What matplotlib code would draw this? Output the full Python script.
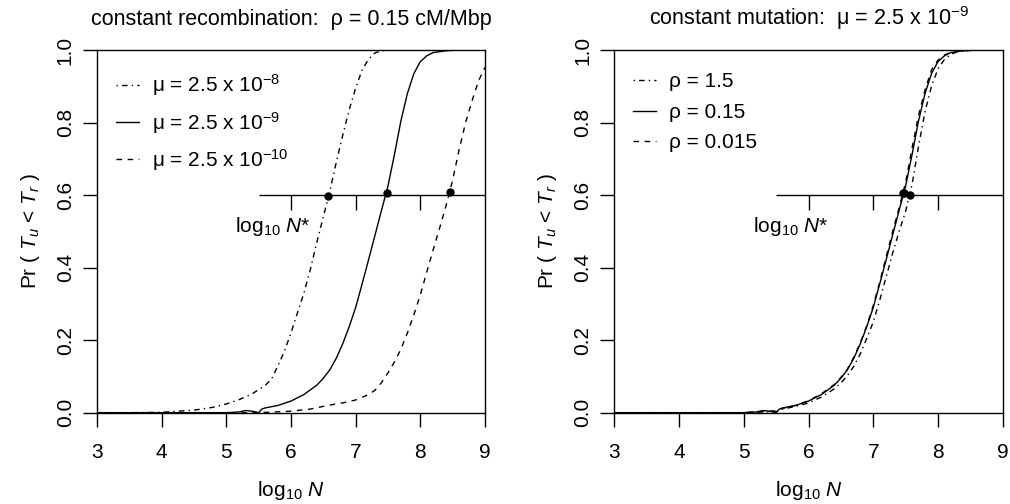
import matplotlib
matplotlib.use("Agg")
import matplotlib.pyplot as plt

plt.rcParams['font.family'] = ['Liberation Sans', 'DejaVu Sans']
plt.rcParams['mathtext.fontset'] = 'custom'
plt.rcParams['mathtext.rm'] = 'Liberation Sans'
plt.rcParams['mathtext.it'] = 'Liberation Sans:italic'
plt.rcParams['mathtext.bf'] = 'Liberation Sans:bold'

# ---------------- data ----------------
# Left panel: constant recombination, varying mutation rate
x_mu8 = [3.0, 3.5, 4.0, 4.5, 4.8, 5.0, 5.2, 5.4, 5.6, 5.7, 5.8, 5.9, 6.0, 6.1, 6.2,
         6.3, 6.4, 6.5, 6.6, 6.7, 6.8, 6.9, 7.0, 7.1, 7.2, 7.3, 7.4, 7.6, 9.0]
y_mu8 = [0.0, 0.0, 0.001, 0.007, 0.015, 0.024, 0.036, 0.052, 0.075, 0.093, 0.13, 0.17,
         0.22, 0.275, 0.33, 0.395, 0.47, 0.54, 0.61, 0.69, 0.765, 0.835, 0.895, 0.945,
         0.975, 0.992, 0.998, 1.0, 1.0]

x_mu9 = [3.0, 4.0, 5.0, 5.2, 5.3, 5.4, 5.5, 5.55, 5.6, 5.8, 6.0, 6.2, 6.4, 6.5, 6.6,
         6.7, 6.8, 6.9, 7.0, 7.1, 7.2, 7.3, 7.4, 7.5, 7.6, 7.7, 7.8, 7.9, 8.0, 8.1,
         8.2, 8.4, 8.6, 9.0]
y_mu9 = [0.0, 0.0, 0.0, 0.002, 0.006, 0.004, 0.0, 0.01, 0.013, 0.02, 0.032, 0.05,
         0.076, 0.095, 0.118, 0.15, 0.19, 0.237, 0.29, 0.355, 0.422, 0.49, 0.558,
         0.625, 0.712, 0.805, 0.88, 0.935, 0.968, 0.984, 0.993, 0.998, 1.0, 1.0]

x_mu10 = [3.0, 5.5, 6.0, 6.3, 6.6, 6.8, 7.0, 7.2, 7.3, 7.4, 7.5, 7.6, 7.7, 7.8, 7.9,
          8.0, 8.1, 8.2, 8.3, 8.4, 8.5, 8.6, 8.7, 8.8, 8.9, 9.0]
y_mu10 = [0.0, 0.0, 0.004, 0.01, 0.021, 0.027, 0.035, 0.05, 0.062, 0.083, 0.11, 0.14,
          0.175, 0.22, 0.27, 0.325, 0.388, 0.45, 0.51, 0.572, 0.642, 0.725, 0.80, 0.86,
          0.915, 0.952]

nstar_left_x = [6.58, 7.49, 8.46]
nstar_left_y = [0.598, 0.607, 0.609]

# Right panel: constant mutation, varying recombination rate
x_rho15 = [3.0, 5.0, 5.5, 5.6, 5.8, 6.0, 6.2, 6.4, 6.5, 6.6, 6.7, 6.8, 6.9, 7.0, 7.1,
           7.2, 7.3, 7.4, 7.5, 7.6, 7.7, 7.8, 7.9, 8.0, 8.1, 8.2, 8.3, 8.5, 8.7, 9.0]
y_rho15 = [0.0, 0.0, 0.003, 0.01, 0.017, 0.027, 0.043, 0.066, 0.082, 0.102, 0.128,
           0.162, 0.205, 0.25, 0.31, 0.375, 0.44, 0.5, 0.555, 0.63, 0.735, 0.83, 0.9,
           0.948, 0.974, 0.988, 0.995, 0.999, 1.0, 1.0]

x_rho015 = x_mu9
y_rho015 = y_mu9

x_rho0015 = [3.0, 5.0, 5.3, 5.5, 5.6, 5.8, 6.0, 6.2, 6.4, 6.5, 6.6, 6.7, 6.8, 6.9, 7.0,
             7.1, 7.2, 7.3, 7.4, 7.5, 7.6, 7.7, 7.8, 7.9, 8.0, 8.1, 8.2, 8.4, 8.6, 9.0]
y_rho0015 = [0.0, 0.0, 0.004, 0.005, 0.012, 0.02, 0.033, 0.052, 0.078, 0.097, 0.12,
             0.153, 0.193, 0.24, 0.295, 0.36, 0.43, 0.5, 0.565, 0.635, 0.73, 0.82,
             0.89, 0.945, 0.972, 0.986, 0.994, 0.998, 1.0, 1.0]

nstar_right_x = [7.46, 7.48, 7.56]
nstar_right_y = [0.607, 0.607, 0.600]

left_labels = ["μ = 2.5 x 10$^{-8}$", "μ = 2.5 x 10$^{-9}$", "μ = 2.5 x 10$^{-10}$"]
right_labels = ["ρ = 1.5", "ρ = 0.15", "ρ = 0.015"]
left_title = "constant recombination:  ρ = 0.15 cM/Mbp"
right_title = "constant mutation:  μ = 2.5 x 10$^{-9}$"

xticks = [3, 4, 5, 6, 7, 8, 9]
yticks = [0.0, 0.2, 0.4, 0.6, 0.8, 1.0]
ytick_labels = ["0.0", "0.2", "0.4", "0.6", "0.8", "1.0"]
inner_ticks = [6, 7, 8]

# ---------------- styles ----------------
LW = 1.0
DASHDOT = (0, (1, 3, 4, 3))
DASHED = (0, (4, 4))
SOLID = '-'
FS = 15

fig = plt.figure(figsize=(10.10, 5.04), dpi=100)
ax1 = fig.add_axes([0.0960, 0.1812, 0.3842, 0.7196])
ax2 = fig.add_axes([0.6082, 0.1812, 0.3846, 0.7196])


def style_axes(ax, title):
    ax.set_xlim(3, 9)
    ax.set_ylim(0, 1)
    ax.set_xticks(xticks)
    ax.set_xticklabels([str(t) for t in xticks], fontsize=FS)
    ax.set_yticks(yticks)
    ax.set_yticklabels(ytick_labels, fontsize=FS, rotation=90, va='center')
    ax.tick_params(direction='out', length=10, width=1.0, colors='black')
    ax.tick_params(axis='x', pad=12)
    ax.tick_params(axis='y', pad=6)
    for s in ax.spines.values():
        s.set_linewidth(1.0)
    ax.set_xlabel(r"log$_{10}$ $\it{N}$", fontsize=FS, labelpad=12)
    ax.set_ylabel(r"Pr ( $T_u$ < $T_r$ )", fontsize=FS, labelpad=10)
    ax.set_title(title, fontsize=15.5, pad=18)


def inner_axis(ax):
    ax.plot([5.5, 9.0], [0.6, 0.6], color='black', lw=LW, solid_capstyle='butt')
    for t in inner_ticks:
        ax.plot([t, t], [0.6, 0.56], color='black', lw=LW, solid_capstyle='butt')
    ax.text(5.72, 0.512, r"log$_{10}$ $\it{N}$*", fontsize=FS, ha='center', va='center')


def add_legend(ax, handles, labels):
    ax.legend(handles, labels, loc='upper left', frameon=False, fontsize=FS,
              handlelength=1.1, handletextpad=0.65, labelspacing=0.55,
              borderpad=0.4, bbox_to_anchor=(0.0, 0.99))


# left panel
l1, = ax1.plot(x_mu8, y_mu8, color='black', lw=LW, linestyle=DASHDOT)
l2, = ax1.plot(x_mu9, y_mu9, color='black', lw=LW, linestyle=SOLID)
l3, = ax1.plot(x_mu10, y_mu10, color='black', lw=LW, linestyle=DASHED)
inner_axis(ax1)
ax1.plot(nstar_left_x, nstar_left_y, 'o', color='black', markersize=5, zorder=5)
style_axes(ax1, left_title)
add_legend(ax1, [l1, l2, l3], left_labels)

# right panel
r1, = ax2.plot(x_rho15, y_rho15, color='black', lw=LW, linestyle=DASHDOT)
r2, = ax2.plot(x_rho015, y_rho015, color='black', lw=LW, linestyle=SOLID)
r3, = ax2.plot(x_rho0015, y_rho0015, color='black', lw=LW, linestyle=DASHED)
inner_axis(ax2)
ax2.plot(nstar_right_x, nstar_right_y, 'o', color='black', markersize=5, zorder=5)
style_axes(ax2, right_title)
add_legend(ax2, [r1, r2, r3], right_labels)

fig.savefig("out.png", dpi=100)
